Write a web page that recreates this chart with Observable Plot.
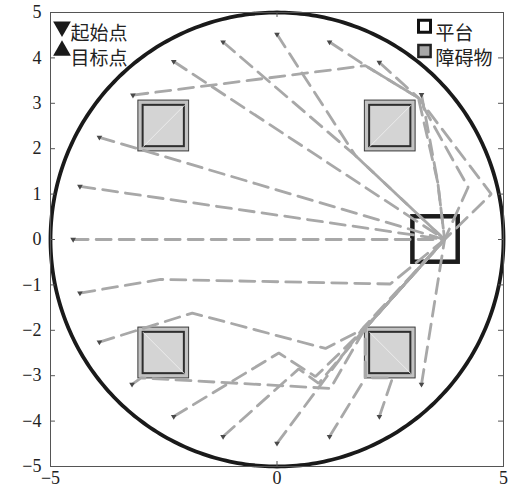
<!DOCTYPE html>
<html>
<head>
<meta charset="utf-8">
<script src="https://cdn.jsdelivr.net/npm/d3@7"></script>
<script src="https://cdn.jsdelivr.net/npm/@observablehq/plot@0.6"></script>
<style>
  body { margin: 0; background: #fff; }
  #chart { width: 515px; height: 492px; }
</style>
</head>
<body>
<div id="chart"></div>
<script>
// Arena and landmarks (data units)
const arenaRadius = 5;
const domain = [-5, 5];
const xTicks = [-5, 0, 5];
const yTicks = [-5, -4, -3, -2, -1, 0, 1, 2, 3, 4, 5];

// Landing platform [x1, x2, y1, y2] and the common goal point
const platform = [3, 4, -0.5, 0.5];
const target = [3.7, 0];

// Square obstacles [x1, x2, y1, y2]
const obstacles = [
  [-3, -2, 2, 3],
  [2, 3, 2, 3],
  [-3, -2, -3, -2],
  [2, 3, -3, -2]
];

// Start points of each route
const startPoints = [
  [3.19, 3.19], [2.26, 3.9], [1.16, 4.35], [0, 4.52], [-1.19, 4.35],
  [-2.28, 3.92], [-3.18, 3.18], [-3.92, 2.25], [-4.35, 1.17], [-4.5, 0],
  [-4.35, -1.18], [-3.92, -2.26], [-3.2, -3.19], [-2.28, -3.9], [-1.19, -4.34],
  [0, -4.49], [1.16, -4.34], [2.26, -3.9], [3.19, -3.19]
];

// Intermediate turning points of each route, in the same order as startPoints
const waypoints = [
  [[3.55, 1.25]],
  [[3.12, 3.12], [4.73, 1.0]],
  [[1.95, 3.83], [3.12, 3.12], [4.22, 1.15]],
  [[0.55, 3.67], [1.73, 1.85]],
  [[1.73, 1.85]],
  [],
  [[1.95, 3.83], [3.12, 3.12], [3.55, 1.25]],
  [],
  [],
  [],
  [[-2.57, -0.88], [2.5, -0.98]],
  [[-1.87, -1.62], [1.07, -2.4], [1.95, -1.95]],
  [[-3.0, -3.05], [1.18, -3.28], [1.95, -1.95]],
  [[0.04, -2.5], [0.85, -3.02], [1.95, -1.95]],
  [[0.48, -2.85], [0.92, -3.17], [1.95, -1.95]],
  [[1.9, -1.95]],
  [[1.95, -3.05], [1.95, -1.95]],
  [[2.55, -3.05], [1.95, -3.05], [1.95, -1.95]],
  []
];

// Legend labels
const legendLeft = ["起始点", "目标点"];
const legendRight = ["平台", "障碍物"];

// ---- derived tables ----
const routeRows = startPoints.flatMap((s, i) =>
  [s, ...waypoints[i], target].map(([x, y]) => ({route: i, x, y}))
);

const circleRows = d3.range(0, 361, 1).map(a => ({
  x: arenaRadius * Math.cos(a * Math.PI / 180),
  y: arenaRadius * Math.sin(a * Math.PI / 180)
}));

const pad = 0.06;    // outer safety band around each obstacle
const inset = 0.045; // inner block
const tick = 0.11;   // inward tick length

const minus = d => (d < 0 ? "\u2212" + Math.abs(d) : String(d));
const serif = "Liberation Serif";
const cjk = "Noto Sans CJK SC";

const chart = Plot.plot({
  width: 515,
  height: 492,
  marginLeft: 50,
  marginRight: 12,
  marginTop: 12,
  marginBottom: 26,
  x: {domain, label: null},
  y: {domain, label: null},
  style: {fontFamily: serif, fontSize: "18px", background: "#fff", color: "#222"},
  marks: [
    // obstacles: outer band, inner block, faint diagonal
    Plot.rect(obstacles, {
      x1: d => d[0] - pad, x2: d => d[1] + pad,
      y1: d => d[2] - pad, y2: d => d[3] + pad,
      fill: "#c2c2c2", stroke: "#3a3a3a", strokeWidth: 1
    }),
    Plot.rect(obstacles, {
      x1: d => d[0] + inset, x2: d => d[1] - inset,
      y1: d => d[2] + inset, y2: d => d[3] - inset,
      fill: "#d4d4d4", stroke: "#2e2e2e", strokeWidth: 2
    }),
    Plot.link(obstacles, {
      x1: d => d[0] + inset,
      y1: d => (d[2] > 0 ? d[2] + inset : d[3] - inset),
      x2: d => d[1] - inset,
      y2: d => (d[2] > 0 ? d[3] - inset : d[2] + inset),
      stroke: "#ececec", strokeWidth: 1
    }),
    // platform
    Plot.rect([platform], {
      x1: d => d[0], x2: d => d[1], y1: d => d[2], y2: d => d[3],
      fill: "none", stroke: "#1c1c1c", strokeWidth: 4.5
    }),
    // routes
    Plot.line(routeRows, {
      x: "x", y: "y", z: "route",
      stroke: "#a8a8a8", strokeWidth: 2.8,
      strokeDasharray: "15,8", strokeLinejoin: "miter"
    }),
    // arena boundary
    Plot.line(circleRows, {x: "x", y: "y", stroke: "#1a1a1a", strokeWidth: 3.8}),
    // start markers
    Plot.dot(startPoints, {
      x: d => d[0], y: d => d[1],
      symbol: "triangle", rotate: 180, r: 2.1, fill: "#4a4a4a"
    }),
    // frame and inward ticks
    Plot.frame({stroke: "#555", strokeWidth: 1}),
    Plot.ruleY(yTicks, {y: d => d, x1: domain[0], x2: domain[0] + tick, stroke: "#555"}),
    Plot.ruleY(yTicks, {y: d => d, x1: domain[1] - tick, x2: domain[1], stroke: "#555"}),
    Plot.ruleX(xTicks, {x: d => d, y1: domain[0], y2: domain[0] + tick, stroke: "#555"}),
    Plot.ruleX(xTicks, {x: d => d, y1: domain[1] - tick, y2: domain[1], stroke: "#555"}),
    Plot.axisY({ticks: yTicks, tickSize: 0, tickPadding: 9, tickFormat: minus, fontSize: 18, fontFamily: serif, fill: "#222"}),
    Plot.axisX({ticks: xTicks, tickSize: 0, tickPadding: 5, tickFormat: minus, fontSize: 18, fontFamily: serif, fill: "#222"}),
    // legend, upper left
    Plot.dot([0], {frameAnchor: "top-left", dx: 11.5, dy: 14.2, symbol: "triangle", rotate: 180, r: 6.6, fill: "#1a1a1a"}),
    Plot.dot([0], {frameAnchor: "top-left", dx: 11.5, dy: 38, symbol: "triangle", r: 6.6, fill: "#1a1a1a"}),
    Plot.text([legendLeft[0]], {frameAnchor: "top-left", text: d => d, dx: 20, dy: 14, textAnchor: "start", fontFamily: cjk, fontSize: 19, fill: "#222"}),
    Plot.text([legendLeft[1]], {frameAnchor: "top-left", text: d => d, dx: 20, dy: 39, textAnchor: "start", fontFamily: cjk, fontSize: 19, fill: "#222"}),
    // legend, upper right
    Plot.dot([0], {frameAnchor: "top-right", dx: -79, dy: 13.8, symbol: "square", r: 6.77, fill: "#fff", stroke: "#111", strokeWidth: 3}),
    Plot.dot([0], {frameAnchor: "top-right", dx: -79, dy: 38.5, symbol: "square", r: 6.9, fill: "#a8a8a8", stroke: "#222", strokeWidth: 2.5}),
    Plot.text([legendRight[0]], {frameAnchor: "top-right", text: d => d, dx: -68, dy: 13.5, textAnchor: "start", fontFamily: cjk, fontSize: 19, fill: "#222"}),
    Plot.text([legendRight[1]], {frameAnchor: "top-right", text: d => d, dx: -68, dy: 38.5, textAnchor: "start", fontFamily: cjk, fontSize: 19, fill: "#222"})
  ]
});

document.getElementById("chart").appendChild(chart);
</script>
</body>
</html>
